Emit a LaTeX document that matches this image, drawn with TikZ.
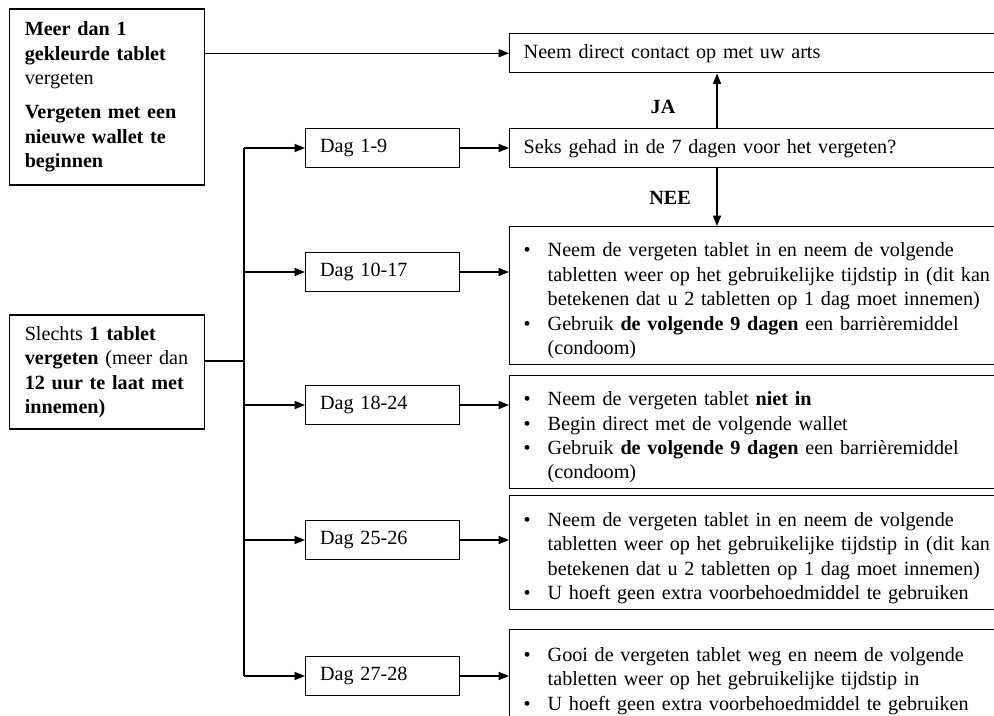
\documentclass[tikz,border=0pt]{standalone}
\usepackage{fontspec}
\setmainfont{Liberation Serif}
\usetikzlibrary{positioning,arrows.meta}
\newcommand{\bul}{\par\noindent\hangindent=15pt\hangafter=1\makebox[15pt][l]{\textbullet}}

\begin{document}
\begin{tikzpicture}[x=0.625pt,y=-0.625pt,
    font=\fontsize{12.6}{15.3}\selectfont,
    box/.style={draw,line width=0.9pt,rectangle,align=left},
    leftbox/.style={box,anchor=west,text width=103pt,inner xsep=9.4pt},
    dagbox/.style={box,anchor=west,text width=78pt,inner xsep=9pt,minimum height=24.4pt},
    advbox/.style={box,anchor=north west,text width=330pt,inner xsep=8.75pt},
    arr/.style={-{Triangle[length=6.5pt,width=5pt]},line width=0.9pt}]
    \useasboundingbox (0,0) rectangle (994,715);
    \clip (0,0) rectangle (994,715);

    \node[leftbox,minimum height=110pt] (forgotmore) at (9,97) {\textbf{Meer dan 1}\\ \textbf{gekleurde tablet}\\ vergeten\par\vspace{6pt}\textbf{Vergeten met een}\\ \textbf{nieuwe wallet te}\\ \textbf{beginnen}};
    \node[leftbox,minimum height=71.25pt] (forgotone) at (9,372) {Slechts \textbf{1 tablet}\\ \textbf{vergeten} (meer dan\\ \textbf{12 uur te laat met}\\ \textbf{innemen)}};

    \node[dagbox] (dag1) at (305,148) {Dag 1-9};
    \node[dagbox] (dag2) at (305,272) {Dag 10-17};
    \node[dagbox] (dag3) at (305,405) {Dag 18-24};
    \node[dagbox] (dag4) at (305,540) {Dag 25-26};
    \node[dagbox] (dag5) at (305,676) {Dag 27-28};

    \node[advbox,minimum height=24.4pt] (arts) at (509,33) {Neem direct contact op met uw arts};
    \node[advbox,minimum height=24.4pt] (seks) at (509,128) {Seks gehad in de 7 dagen voor het vergeten?};
    \node[advbox,minimum height=86.25pt] (adv2) at (509,226) {\bul Neem de vergeten tablet in en neem de volgende\newline tabletten weer op het gebruikelijke tijdstip in (dit kan\newline betekenen dat u 2 tabletten op 1 dag moet innemen)\bul Gebruik \textbf{de volgende 9 dagen} een barrièremiddel\newline (condoom)\par};
    \node[advbox,minimum height=70pt] (adv3) at (509,375) {\bul Neem de vergeten tablet \textbf{niet in}\bul Begin direct met de volgende wallet\bul Gebruik \textbf{de volgende 9 dagen} een barrièremiddel\newline (condoom)\par};
    \node[advbox,minimum height=71.25pt] (adv4) at (509,495) {\bul Neem de vergeten tablet in en neem de volgende\newline tabletten weer op het gebruikelijke tijdstip in (dit kan\newline betekenen dat u 2 tabletten op 1 dag moet innemen)\bul U hoeft geen extra voorbehoedmiddel te gebruiken\par};
    \node[advbox,minimum height=57.5pt] (adv5) at (509,629) {\bul Gooi de vergeten tablet weg en neem de volgende\newline tabletten weer op het gebruikelijke tijdstip in\bul U hoeft geen extra voorbehoedmiddel te gebruiken\par};

    \node (ja) at (663,107) {\textbf{JA}};
    \node (nee) at (670,198) {\textbf{NEE}};

    \coordinate (spine) at (244,361);
    \coordinate (yesno) at (717,0);

    \draw[arr] (forgotmore.east |- arts.west) -- (arts.west);
    \draw[line width=0.9pt] (forgotone.east |- spine) -- (spine);
    \draw[line width=0.9pt] (spine |- dag1.west) -- (spine |- dag5.west);
    \foreach \d in {dag1,dag2,dag3,dag4,dag5}
        \draw[arr] (spine |- \d.west) -- (\d.west);
    \foreach \d/\a in {dag1/seks,dag2/adv2,dag3/adv3,dag4/adv4,dag5/adv5}
        \draw[arr] (\d.east) -- (\d.east -| \a.west);
    \draw[arr] (seks.north -| yesno) -- (arts.south -| yesno);
    \draw[arr] (seks.south -| yesno) -- (adv2.north -| yesno);
\end{tikzpicture}
\end{document}
